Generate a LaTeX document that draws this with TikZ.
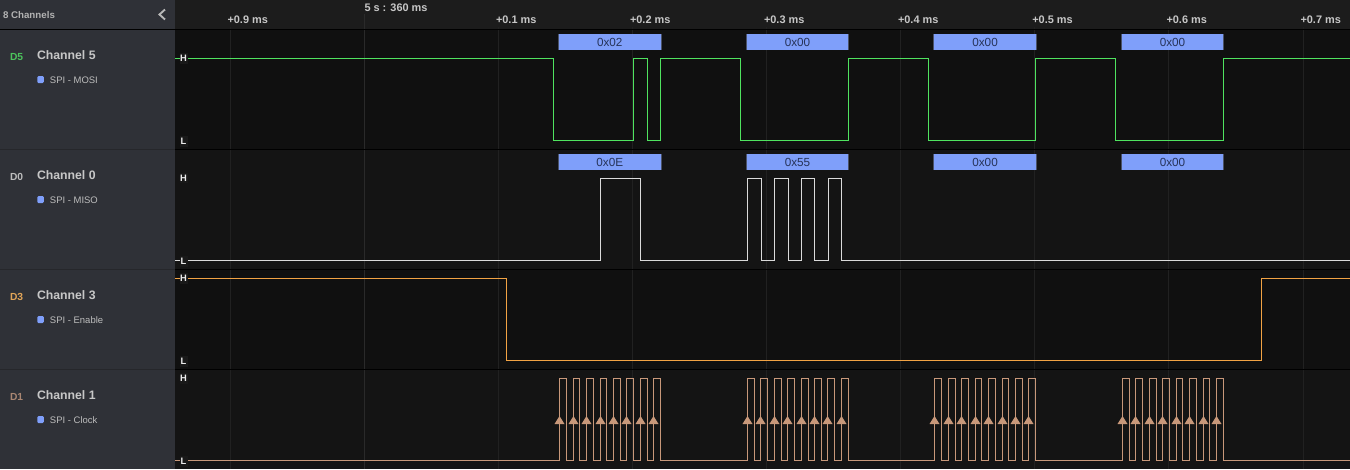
\documentclass[tikz,border=0pt]{standalone}
\usepackage{fontspec}
\setmainfont{Liberation Sans}
\definecolor{panel}{HTML}{2F3137}
\definecolor{panelsep}{HTML}{26272B}
\definecolor{headbg}{HTML}{1C1C1C}
\definecolor{rowa}{HTML}{101010}
\definecolor{rowb}{HTML}{141414}
\definecolor{gridc}{HTML}{212121}
\definecolor{gridm}{HTML}{2A2A2A}
\definecolor{wgreen}{HTML}{4FE35F}
\definecolor{wwhite}{HTML}{DADADA}
\definecolor{worange}{HTML}{F2A344}
\definecolor{wclock}{HTML}{C8987A}
\definecolor{boxblue}{HTML}{7F9FFA}
\definecolor{boxedge}{HTML}{4A5268}
\definecolor{boxtext}{HTML}{263359}
\tikzset{
  x=0.75pt,y=-0.75pt,
  txt/.style={anchor=base west,inner sep=0pt,outer sep=0pt},
  timelabel/.style={txt,font=\bfseries\fontsize{8.2pt}{9pt}\selectfont,text=white!78!black},
  chname/.style={txt,font=\bfseries\fontsize{9.2pt}{11pt}\selectfont,text=white!78!black},
  chid/.style={txt,font=\bfseries\fontsize{7.7pt}{9pt}\selectfont},
  analyzer/.style={txt,font=\fontsize{7.1pt}{9pt}\selectfont,text=white!74!black},
  hl/.style={anchor=center,inner sep=0pt,outer sep=0pt,minimum width=6pt,minimum height=8pt,fill=black!90,text=white!92!black,font=\bfseries\fontsize{7pt}{8pt}\selectfont},
  wave/.style={line width=0.8pt,line join=miter},
  databox/.style={anchor=north west,inner sep=0pt,outer sep=0pt,fill=boxblue,text=boxtext,minimum height=12pt,font=\fontsize{8.8pt}{10pt}\selectfont},
  edgetick/.style={fill=wclock,draw=none},
}
\newcommand{\tri}[1]{\fill[edgetick] (#1-5,424) -- (#1,416) -- (#1+5,424) -- cycle;}
\begin{document}
\begin{tikzpicture}
\useasboundingbox (0,0) rectangle (1350,469);
% backgrounds
\fill[panel] (0,0) rectangle (175,469);
\fill[headbg] (175,0) rectangle (1350,29);
\fill[rowa] (175,29) rectangle (1350,149);
\fill[rowb] (175,149) rectangle (1350,269);
\fill[rowa] (175,269) rectangle (1350,369);
\fill[rowb] (175,369) rectangle (1350,469);
% grid
\foreach \g in {230.3,498.3,632.5,766.5,900.5,1034.5,1168.7,1303.2}
  \draw[gridc,line width=0.75pt] (\g,27) -- (\g,469);
\draw[gridm,line width=0.75pt] (364.5,14) -- (364.5,469);
% separators
\draw[black,line width=0.75pt] (0,29) -- (1350,29);
\foreach \s in {149,269,369} {
  \draw[panelsep,line width=0.75pt] (0,\s) -- (175,\s);
  \draw[black,line width=0.75pt] (175,\s) -- (1350,\s);
}
% header
\node[txt,font=\bfseries\fontsize{7.3pt}{9pt}\selectfont,text=white!70!black] (hdr) at (3,18.3) {8 Channels};
\coordinate (chevtop) at (165,9.5);
\coordinate (chevmid) at (159.5,14.5);
\coordinate (chevbot) at (165,19.5);
\draw[white!72!black,line width=1.4pt] (chevtop) -- (chevmid) -- (chevbot);
\node[timelabel] (t9) at (227.5,23) {+0.9 ms};
\node[timelabel] (t0) at (364.5,11.2) {5 s : 360 ms};
\node[timelabel] (t1) at (496,23) {+0.1 ms};
\node[timelabel] (t2) at (630,23) {+0.2 ms};
\node[timelabel] (t3) at (764,23) {+0.3 ms};
\node[timelabel] (t4) at (898,23) {+0.4 ms};
\node[timelabel] (t5) at (1032.3,23) {+0.5 ms};
\node[timelabel] (t6) at (1166.5,23) {+0.6 ms};
\node[timelabel] (t7) at (1300.5,23) {+0.7 ms};
% channel labels
\foreach \n/\off/\id/\col/\ch/\an in {
  a/0/D5/4CC35C/Channel 5/SPI - MOSI,
  b/120/D0/BDBDBD/Channel 0/SPI - MISO,
  c/240/D3/E0A458/Channel 3/SPI - Enable,
  d/340/D1/A98672/Channel 1/SPI - Clock} {
  \definecolor{idcol}{HTML}{\col}
  \node[chid,text=idcol] (id\n) at (10,60.2+\off) {\id};
  \node[chname] (ch\n) at (37,59+\off) {\ch};
  \fill[boxblue,rounded corners=0.9pt] (37.3,76+\off) rectangle (43.9,83+\off);
  \node[analyzer] (an\n) at (50,83.2+\off) {\an};
}
% MOSI
\draw[wgreen,wave] (175,58.5) -| (553.5,140.5) -| (633.5,58.5) -| (647.5,140.5) -| (660.5,58.5)
  -| (740.5,140.5) -| (848.5,58.5) -| (928.5,140.5) -| (1035.5,58.5) -| (1115.5,140.5) -| (1223.5,58.5) -- (1350,58.5);
% MISO
\draw[wwhite,wave] (175,260.5) -| (600.5,178.5) -| (640.5,260.5) -| (747.5,178.5) -| (761.5,260.5)
  -| (774.5,178.5) -| (788.5,260.5) -| (801.5,178.5) -| (814.5,260.5) -| (828.5,178.5) -| (841.5,260.5) -- (1350,260.5);
% Enable
\draw[worange,wave] (175,278.5) -| (506.5,360.5) -| (1261.5,278.5) -- (1350,278.5);
% Clock
\def\Hh{378.5}\def\Ll{460.5}
\draw[wclock,wave] (175,\Ll)
  -| (559.5,\Hh) -| (566.5,\Ll) -| (573.5,\Hh) -| (579.5,\Ll) -| (586.5,\Hh) -| (593.5,\Ll) -| (600.5,\Hh) -| (606.5,\Ll)
  -| (613.5,\Hh) -| (620.5,\Ll) -| (626.5,\Hh) -| (633.5,\Ll) -| (640.5,\Hh) -| (647.5,\Ll) -| (653.5,\Hh) -| (660.5,\Ll)
  -| (747.5,\Hh) -| (754.5,\Ll) -| (760.5,\Hh) -| (767.5,\Ll) -| (774.5,\Hh) -| (781.5,\Ll) -| (787.5,\Hh) -| (794.5,\Ll)
  -| (801.5,\Hh) -| (808.5,\Ll) -| (814.5,\Hh) -| (821.5,\Ll) -| (827.5,\Hh) -| (834.5,\Ll) -| (841.5,\Hh) -| (848.5,\Ll)
  -| (934.5,\Hh) -| (941.5,\Ll) -| (948.5,\Hh) -| (955.5,\Ll) -| (961.5,\Hh) -| (968.5,\Ll) -| (975.5,\Hh) -| (981.5,\Ll)
  -| (988.5,\Hh) -| (995.5,\Ll) -| (1002.5,\Hh) -| (1008.5,\Ll) -| (1015.5,\Hh) -| (1022.5,\Ll) -| (1028.5,\Hh) -| (1035.5,\Ll)
  -| (1122.5,\Hh) -| (1129.5,\Ll) -| (1135.5,\Hh) -| (1142.5,\Ll) -| (1149.5,\Hh) -| (1156.5,\Ll) -| (1162.5,\Hh) -| (1169.5,\Ll)
  -| (1176.5,\Hh) -| (1182.5,\Ll) -| (1189.5,\Hh) -| (1196.5,\Ll) -| (1203.5,\Hh) -| (1209.5,\Ll) -| (1216.5,\Hh) -| (1223.5,\Ll)
  -- (1350,\Ll);
\foreach \e in {559.5,573.5,586.5,600.5,613.5,626.5,640.5,653.5,
                747.5,760.5,774.5,787.5,801.5,814.5,827.5,841.5,
                934.5,948.5,961.5,975.5,988.5,1002.5,1015.5,1028.5,
                1122.5,1135.5,1149.5,1162.5,1176.5,1189.5,1203.5,1216.5} {\tri{\e}}
% data boxes
\foreach \n/\x/\y/\w/\t in {
  ma/558.5/34/102.5/0x02, mb/746.5/34/102/0x00, mc/933.8/34/102.5/0x00, md/1121.5/34/102/0x00,
  sa/558.5/154/102.5/0x0E, sb/746.5/154/102/0x55, sc/933.8/154/102.5/0x00, sd/1121.5/154/102/0x00} {
  \node[databox,minimum width=\w*0.75pt] (\n) at (\x,\y) {\t};
  \draw[boxedge,line width=0.6pt] (\n.north west) -- (\n.south west) (\n.north east) -- (\n.south east);
}
% H / L markers
\foreach \n/\y/\t in {ha/58.5/H,la/141.5/L,hb/178/H,lb/261.5/L,hc/278.5/H,lc/361.5/L,hd/378.5/H,ld/461.5/L}
  \node[hl] (\n) at (183.5,\y) {\t};
\end{tikzpicture}
\end{document}
